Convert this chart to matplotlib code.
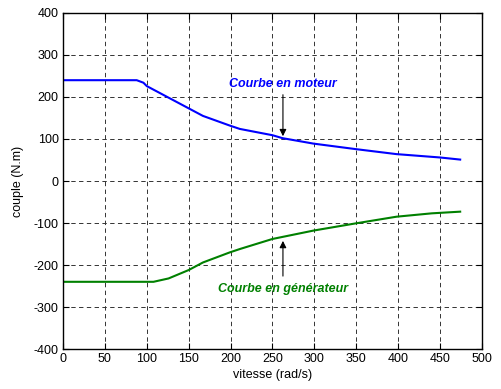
import matplotlib
matplotlib.use("Agg")
import matplotlib.pyplot as plt

plt.rcParams['font.family'] = ['Liberation Sans', 'DejaVu Sans']
plt.rcParams['axes.unicode_minus'] = False

# Motor curve (blue)
w_mot = [0, 88, 96, 100, 150, 167, 199, 211, 250, 262, 299, 349, 398, 450, 474]
t_mot = [240, 240, 234, 226, 173, 155, 132, 124, 109, 102, 89, 76, 64, 56, 51]
# Generator curve (green)
w_gen = [0, 108, 126, 150, 167, 199, 211, 250, 299, 349, 398, 440, 474]
t_gen = [-240, -240, -232, -212, -194, -170, -162, -138, -118, -101, -85, -77, -73]

xticks = [0, 50, 100, 150, 200, 250, 300, 350, 400, 450, 500]
yticks = [-400, -300, -200, -100, 0, 100, 200, 300, 400]

fig = plt.figure(figsize=(5.01, 3.89), dpi=100)
ax = fig.add_axes([0.1257, 0.1028, 0.8363, 0.8638])

ax.plot(w_mot, t_mot, color='#0000ff', lw=1.5)
ax.plot(w_gen, t_gen, color='#008000', lw=1.5)

ax.set_xlim(0, 500)
ax.set_ylim(-400, 400)
ax.set_xticks(xticks)
ax.set_yticks(yticks)
ax.tick_params(direction='in', top=True, right=True, length=4, labelsize=9, pad=3)
ax.grid(True, color='#333333', linestyle=(0, (4.5, 3.5)), lw=0.7)
for s in ax.spines.values():
    s.set_linewidth(1.0)

ax.set_xlabel('vitesse (rad/s)', fontsize=9, labelpad=3)
ax.set_ylabel('couple (N.m)', fontsize=9, labelpad=7)

ax.annotate('', xy=(262.5, 100), xytext=(262.5, 212),
            arrowprops=dict(arrowstyle='-|>', color='black', lw=0.8, mutation_scale=10))
ax.text(262.5, 230, 'Courbe en moteur', color='#0000ff', fontsize=9,
        fontweight='bold', style='italic', ha='center', va='center')

ax.annotate('', xy=(262.5, -136), xytext=(262.5, -233),
            arrowprops=dict(arrowstyle='-|>', color='black', lw=0.8, mutation_scale=10))
ax.text(262.5, -257, 'Courbe en générateur', color='#008000', fontsize=9,
        fontweight='bold', style='italic', ha='center', va='center')

fig.savefig('out.png', dpi=100)
